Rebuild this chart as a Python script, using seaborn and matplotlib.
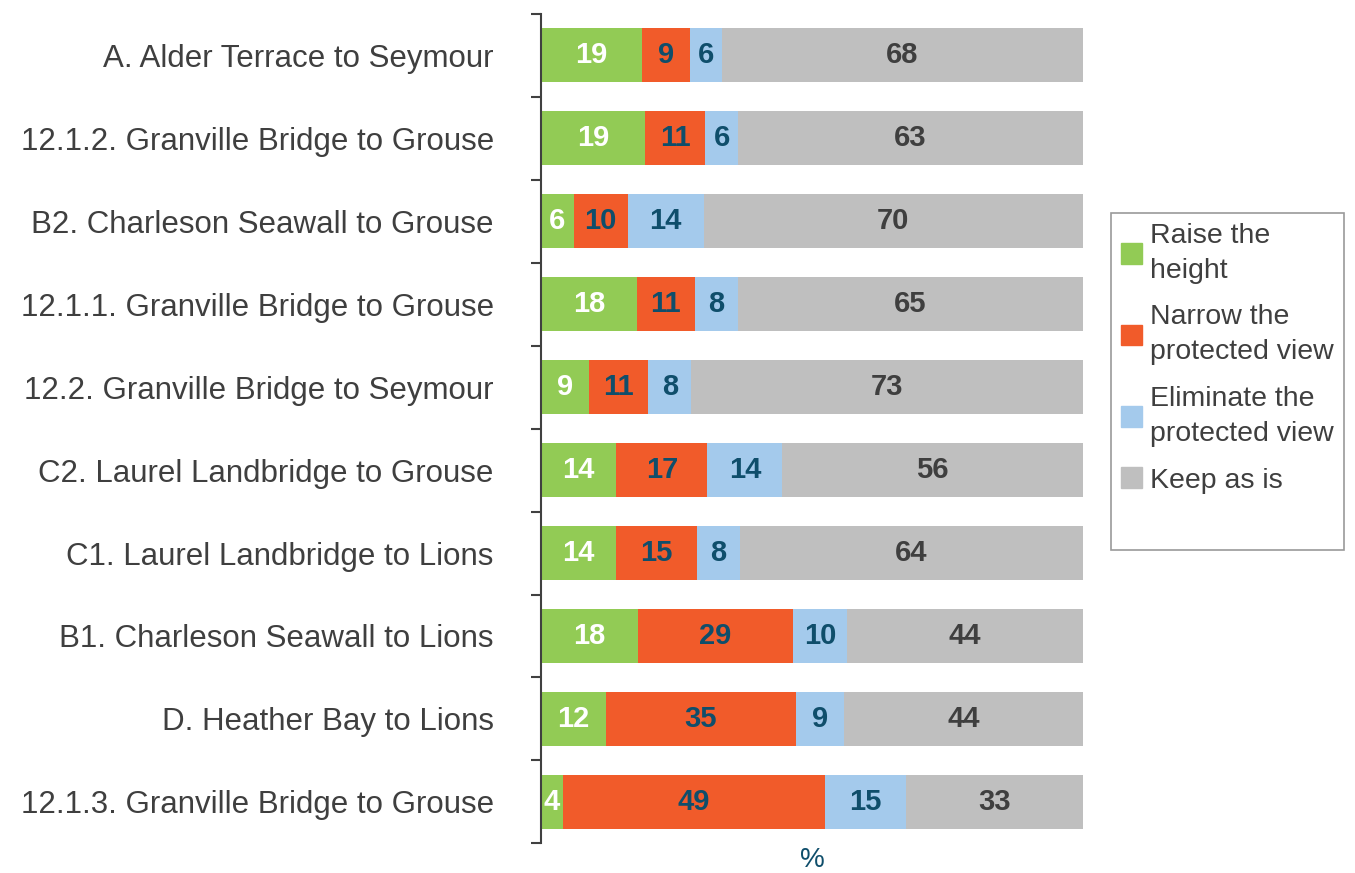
import numpy as np
import pandas as pd
import seaborn as sns
import matplotlib.pyplot as plt

# Data (percent of respondents)
routes = ["A. Alder Terrace to Seymour", "12.1.2. Granville Bridge to Grouse",
          "B2. Charleson Seawall to Grouse", "12.1.1. Granville Bridge to Grouse",
          "12.2. Granville Bridge to Seymour", "C2. Laurel Landbridge to Grouse",
          "C1. Laurel Landbridge to Lions", "B1. Charleson Seawall to Lions",
          "D. Heather Bay to Lions", "12.1.3. Granville Bridge to Grouse"]
raise_height = [19, 19, 6, 18, 9, 14, 14, 18, 12, 4]
narrow_view = [9, 11, 10, 11, 11, 17, 15, 29, 35, 49]
eliminate_view = [6, 6, 14, 8, 8, 14, 8, 10, 9, 15]
keep_as_is = [68, 63, 70, 65, 73, 56, 64, 44, 44, 33]

series = ["Raise the\nheight", "Narrow the\nprotected view",
          "Eliminate the\nprotected view", "Keep as is"]
colors = ["#92CB55", "#F15B2A", "#A4CAEC", "#BFBFBF"]
label_colors = ["white", "#0F4E6B", "#0F4E6B", "#3F3F3F"]

df = pd.DataFrame({"route": routes, series[0]: raise_height, series[1]: narrow_view,
                   series[2]: eliminate_view, series[3]: keep_as_is})

# 100% stacked: normalise each row, then cumulative sums
vals = df[series].to_numpy(dtype=float)
shares = vals / vals.sum(axis=1, keepdims=True) * 100
cum = np.cumsum(shares, axis=1)

plt.rcParams['font.family'] = ['Liberation Sans', 'DejaVu Sans']

fig = plt.figure(figsize=(13.55, 8.73), dpi=100)
ax = fig.add_axes([0.3993, 0.034, 0.3999, 0.95])

# draw from the longest cumulative bar down so earlier segments sit on top
for i in range(len(series) - 1, -1, -1):
    sns.barplot(x=cum[:, i], y=df["route"], orient="h", color=colors[i],
                width=0.65, ax=ax, linewidth=0, saturation=1)

for r in range(len(routes)):
    for i in range(len(series)):
        start = cum[r, i] - shares[r, i]
        ax.text(start + shares[r, i] / 2, r, str(int(vals[r, i])),
                ha="center", va="center", fontsize=21, fontweight="bold",
                color=label_colors[i])

ax.set_xlim(0, 100)
ax.set_ylim(len(routes) - 0.5, -0.5)
ax.set_xticks([])
ax.set_xlabel("%", fontsize=20, color="#0F4E6B", labelpad=2.5)
ax.set_ylabel("")

# ticks at category boundaries, labels at centers
ax.set_yticks(np.arange(-0.5, len(routes), 1))
ax.set_yticklabels([])
ax.set_yticks(np.arange(len(routes)), minor=True)
ax.set_yticklabels(routes, minor=True, fontsize=22.5, color="#3F3F3F")
ax.tick_params(axis="y", which="major", length=7, width=1.5, color="#404040")
ax.tick_params(axis="y", which="minor", length=0, pad=34)

for s in ["top", "right", "bottom"]:
    ax.spines[s].set_visible(False)
ax.spines["left"].set_color("#404040")
ax.spines["left"].set_linewidth(1.5)

handles = [plt.Rectangle((0, 0), 1, 1, color=c) for c in colors]
handles.append(plt.Rectangle((0, 0), 1, 1, color="none"))
leg = fig.legend(handles, series + [""], loc="upper left",
                 bbox_to_anchor=(0.82, 0.756), borderaxespad=0,
                 fontsize=20.5, frameon=True, fancybox=False,
                 edgecolor="#808080", handlelength=0.72, handleheight=0.72,
                 handletextpad=0.3, labelspacing=0.72, borderpad=0.35,
                 labelcolor="#3F3F3F")
leg.get_frame().set_linewidth(1.2)
for t in leg.get_texts():
    t.set_linespacing(1.45)

fig.savefig("out.png", dpi=100)
